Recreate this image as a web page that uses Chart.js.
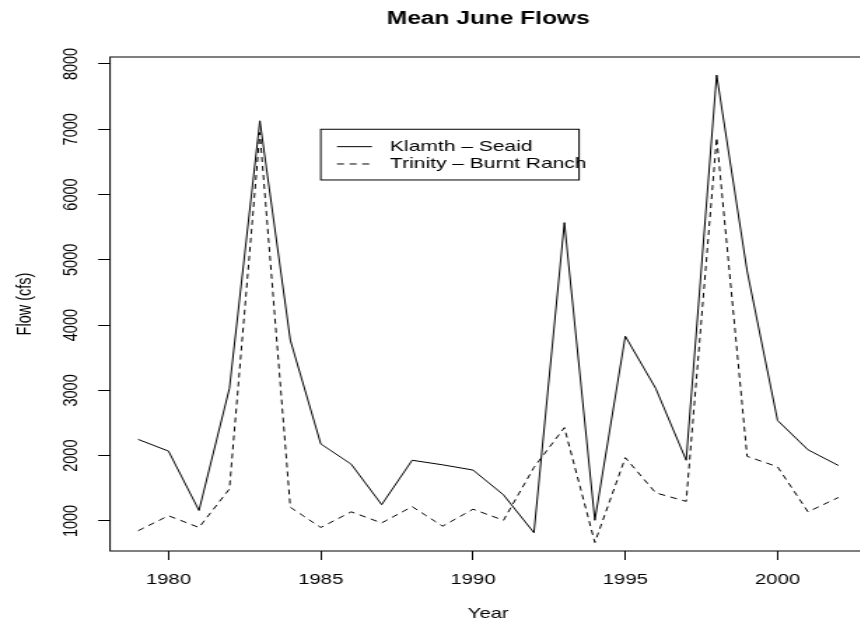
<!DOCTYPE html>
<html>
<head>
<meta charset="utf-8">
<title>Mean June Flows</title>
<script src="https://cdn.jsdelivr.net/npm/chart.js@4.4.1/dist/chart.umd.min.js"></script>
<style>
  html, body { margin: 0; padding: 0; background: #fff; overflow: hidden; }
</style>
</head>
<body>
<!-- the original plot is stretched sideways, so the canvas is drawn narrow and shown wide -->
<canvas id="flowChart" width="630" height="626" style="display:block;width:882px;height:626px"></canvas>
<script>
const years = [1979, 1980, 1981, 1982, 1983, 1984, 1985, 1986, 1987, 1988, 1989, 1990,
               1991, 1992, 1993, 1994, 1995, 1996, 1997, 1998, 1999, 2000, 2001, 2002];
const klamath = [2250, 2070, 1160, 3030, 7130, 3770, 2180, 1870, 1250, 1930, 1860, 1780,
                 1400, 820, 5570, 1010, 3830, 3030, 1930, 7830, 4830, 2540, 2090, 1850];
const trinity = [850, 1080, 900, 1490, 6950, 1210, 900, 1140, 970, 1220, 920, 1180,
                 1010, 1820, 2430, 670, 1970, 1430, 1300, 6870, 1990, 1830, 1140, 1360];
const seriesLabels = ["Klamth – Seaid", "Trinity – Burnt Ranch"];
const xTicks = [1980, 1985, 1990, 1995, 2000];
const yTicks = [1000, 2000, 3000, 4000, 5000, 6000, 7000, 8000];
const legendAt = { x: 1985, y: 7000 }; // top-left corner of the legend, in data units

const fontFamily = "'Liberation Sans', Arial, sans-serif";

// R-style frame round the plot region
const plotBox = {
    id: "plotBox",
    afterDatasetsDraw(chart) {
        const { ctx, chartArea: a } = chart;
        ctx.save();
        ctx.strokeStyle = "#000";
        ctx.lineWidth = 1;
        ctx.strokeRect(a.left, a.top, a.right - a.left, a.bottom - a.top);
        ctx.restore();
    }
};

// boxed legend placed at data coordinates, like legend(x, y, ...) in R
const boxLegend = {
    id: "boxLegend",
    afterDatasetsDraw(chart) {
        const { ctx, scales } = chart;
        const left = scales.x.getPixelForValue(legendAt.x);
        const top = scales.y.getPixelForValue(legendAt.y);
        ctx.save();
        ctx.fillStyle = "#fff";
        ctx.fillRect(left, top, 184.5, 50.7);
        ctx.strokeStyle = "#000";
        ctx.lineWidth = 1;
        ctx.strokeRect(left, top, 184.5, 50.7);
        ctx.font = "15px " + fontFamily;
        ctx.textBaseline = "middle";
        ctx.fillStyle = "#000";
        chart.data.datasets.forEach((ds, i) => {
            const rowY = top + 17.4 + i * 17.3;
            ctx.setLineDash(ds.borderDash || []);
            ctx.beginPath();
            ctx.moveTo(left + 11.6, rowY);
            ctx.lineTo(left + 36.6, rowY);
            ctx.stroke();
            ctx.setLineDash([]);
            ctx.fillText(ds.label, left + 49.5, rowY);
        });
        ctx.restore();
    }
};

const toPoints = vals => vals.map((v, i) => ({ x: years[i], y: v }));

new Chart(document.getElementById("flowChart"), {
    type: "line",
    data: {
        datasets: [{
            label: seriesLabels[0],
            data: toPoints(klamath),
            borderColor: "#000",
            borderWidth: 1,
            pointRadius: 0,
            tension: 0
        }, {
            label: seriesLabels[1],
            data: toPoints(trinity),
            borderColor: "#000",
            borderWidth: 1,
            borderDash: [5, 4],
            pointRadius: 0,
            tension: 0
        }]
    },
    options: {
        responsive: false,
        animation: false,
        events: [],
        layout: { padding: { left: 0, right: 11.1, top: 0, bottom: 0 } },
        plugins: {
            legend: { display: false },
            tooltip: { enabled: false },
            title: {
                display: true,
                text: "Mean June Flows",
                fullSize: false,
                color: "#000",
                font: { family: fontFamily, size: 17.5, weight: "bold", lineHeight: 1.2 },
                padding: { top: 9, bottom: 27 }
            }
        },
        scales: {
            x: {
                type: "linear",
                min: 1978.08,
                max: 2002.92,
                afterBuildTicks: s => { s.ticks = xTicks.map(v => ({ value: v })); },
                afterFit: s => { s.height = 75; },
                ticks: {
                    color: "#000",
                    font: { family: fontFamily, size: 14.5 },
                    padding: 11.3,
                    maxRotation: 0,
                    autoSkip: false,
                    callback: v => String(v)
                },
                grid: { drawOnChartArea: false, tickLength: 9, color: "#000", lineWidth: 1 },
                border: { display: false },
                title: {
                    display: true,
                    text: "Year",
                    color: "#000",
                    font: { family: fontFamily, size: 14.5 },
                    padding: { top: 0, bottom: 3.6 }
                }
            },
            y: {
                min: 540,
                max: 8107,
                afterBuildTicks: s => { s.ticks = yTicks.map(v => ({ value: v })); },
                afterFit: s => { s.width = 78.6; },
                ticks: {
                    color: "#000",
                    font: { family: fontFamily, size: 14.5 },
                    padding: 2.8,
                    minRotation: 90,
                    maxRotation: 90,
                    crossAlign: "center",
                    callback: v => String(v)
                },
                grid: { drawOnChartArea: false, tickLength: 8.5, color: "#000", lineWidth: 1 },
                border: { display: false },
                title: {
                    display: true,
                    text: "Flow (cfs)",
                    color: "#000",
                    font: { family: fontFamily, size: 14.5 },
                    padding: { top: 9.5, bottom: 0 }
                }
            }
        }
    },
    plugins: [plotBox, boxLegend]
});
</script>
</body>
</html>
